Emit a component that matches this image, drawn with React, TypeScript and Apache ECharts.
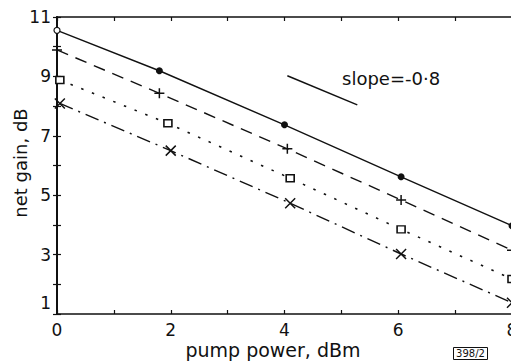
import React, { useEffect, useRef } from 'react';
import * as echarts from 'echarts';

// Pump power (dBm) and net gain (dB)
const circleX = [0, 1.8, 4.0, 6.05, 8];
const circleY = [10.55, 9.19, 7.37, 5.62, 3.97];
const plusX = [0, 1.8, 4.05, 6.05, 8];
const plusY = [9.89, 8.43, 6.56, 4.84, 3.15];
const squareX = [0.05, 1.95, 4.1, 6.05, 8];
const squareY = [8.88, 7.42, 5.57, 3.85, 2.18];
const crossX = [0.05, 2.0, 4.1, 6.05, 8];
const crossY = [8.09, 6.5, 4.73, 3.02, 1.38];
const slopeRefX = [4.05, 5.28];
const slopeRefY = [9.02, 8.04];

const xTickLabels = [0, 2, 4, 6, 8];
const yTickLabels = [1, 3, 5, 7, 9, 11];

const FONT = 'DejaVu Sans';
const INK = '#111';

const zip = (xs: number[], ys: number[]) => xs.map((x, i) => [x, ys[i]]);

export default function App() {
  const ref = useRef<HTMLDivElement>(null);

  useEffect(() => {
    document.body.style.margin = '0';
    const chart = echarts.init(ref.current!, null, { renderer: 'svg' });

    const axisLine = (w: number) => ({ show: true, lineStyle: { color: INK, width: w } });
    const tick = { show: true, inside: true, length: 4, lineStyle: { color: INK, width: 1.2 } };

    const plusPath = 'path://M0,5L10,5M5,0L5,10';
    const crossPath = 'path://M0,0L10,10M10,0L0,10';

    const circleData: any[] = zip(circleX, circleY).map((p, i) =>
      i === 0
        ? { value: p, symbol: 'circle', symbolSize: 6, itemStyle: { color: '#fff', borderColor: INK, borderWidth: 1.2 } }
        : { value: p }
    );

    chart.setOption({
      animation: false,
      backgroundColor: '#fff',
      grid: { left: 57, top: 17, width: 455, height: 297, containLabel: false, outerBoundsMode: 'none' },
      xAxis: [
        {
          type: 'value', min: 0, max: 8, interval: 1, position: 'bottom',
          axisLine: axisLine(1.5), axisTick: tick, splitLine: { show: false },
          axisLabel: {
            color: INK, fontFamily: FONT, fontSize: 17, margin: 7,
            showMinLabel: true, showMaxLabel: true,
            formatter: (v: number) => (xTickLabels.includes(v) ? String(v) : ''),
          },
        },
        {
          type: 'value', min: 0, max: 8, interval: 1, position: 'top',
          axisLine: axisLine(1.5), axisTick: tick, splitLine: { show: false },
          axisLabel: { show: false },
        },
      ],
      yAxis: [
        {
          type: 'value', min: 1, max: 11, interval: 1, position: 'left',
          axisLine: axisLine(2), axisTick: tick, splitLine: { show: false },
          axisLabel: {
            color: INK, fontFamily: FONT, fontSize: 17, margin: 6,
            showMinLabel: true, showMaxLabel: true,
            formatter: (v: number) =>
              yTickLabels.includes(v) ? (v === 1 ? '{up|1}' : String(v)) : '',
            rich: { up: { fontFamily: FONT, fontSize: 17, color: INK, padding: [0, 0, 22, 0] } },
          },
        },
        {
          type: 'value', min: 1, max: 11, interval: 1, position: 'right',
          axisLine: axisLine(1.5), axisTick: tick, splitLine: { show: false },
          axisLabel: { show: false },
        },
      ],
      series: [
        {
          type: 'line', data: circleData, clip: false,
          symbol: 'circle', symbolSize: 7,
          lineStyle: { color: INK, width: 1.4, type: 'solid' },
          itemStyle: { color: INK, borderColor: INK, borderWidth: 0 },
        },
        {
          type: 'line', data: zip(plusX, plusY), clip: false,
          symbol: plusPath, symbolSize: 10,
          lineStyle: { color: INK, width: 1.4, type: [12, 8] },
          itemStyle: { color: 'none', borderColor: INK, borderWidth: 1.5 },
        },
        {
          type: 'line', data: zip(squareX, squareY), clip: false,
          symbol: 'rect', symbolSize: [8, 7],
          lineStyle: { color: INK, width: 1.6, type: [2.5, 9] },
          itemStyle: { color: '#fff', borderColor: INK, borderWidth: 1.5 },
        },
        {
          type: 'line', data: zip(crossX, crossY), clip: false,
          symbol: crossPath, symbolSize: 10,
          lineStyle: { color: INK, width: 1.4, type: [14, 6, 2, 6] },
          itemStyle: { color: 'none', borderColor: INK, borderWidth: 1.5 },
        },
        {
          type: 'line', data: zip(slopeRefX, slopeRefY), clip: false,
          symbol: 'none',
          lineStyle: { color: INK, width: 1.5, type: 'solid' },
        },
      ],
      graphic: [
        {
          type: 'text', x: 20, y: 163, rotation: Math.PI / 2,
          style: { text: 'net gain, dB', fontFamily: FONT, fontSize: 18, fill: INK, align: 'center', verticalAlign: 'middle' },
        },
        {
          type: 'text', x: 273, y: 350,
          style: { text: 'pump power, dBm', fontFamily: FONT, fontSize: 19, fill: INK, align: 'center', verticalAlign: 'middle' },
        },
        {
          type: 'text', x: 342, y: 78,
          style: { text: 'slope=-0·8', fontFamily: FONT, fontSize: 18, fill: INK, align: 'left', verticalAlign: 'middle' },
        },
        {
          type: 'rect', shape: { x: 453.5, y: 347.5, width: 34, height: 12 },
          style: { fill: 'none', stroke: INK, lineWidth: 1 },
        },
        {
          type: 'text', x: 470.5, y: 353.5,
          style: { text: '398/2', fontFamily: FONT, fontSize: 10, fill: INK, align: 'center', verticalAlign: 'middle' },
        },
      ],
    });

    return () => chart.dispose();
  }, []);

  return <div ref={ref} style={{ position: 'absolute', left: 0, top: 0, width: 511, height: 361 }} />;
}
